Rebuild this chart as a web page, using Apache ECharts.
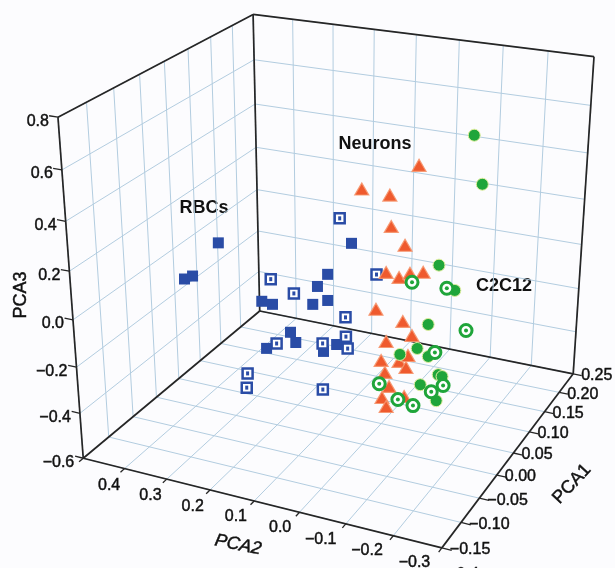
<!DOCTYPE html>
<html><head><meta charset="utf-8">
<script src="https://cdn.jsdelivr.net/npm/echarts@6.0.0/dist/echarts.min.js"></script>
<style>html,body{margin:0;padding:0;background:#fff}#c{width:615px;height:568px}</style>
</head><body><div id="c"></div>
<script>
// ---- axis ticks ----
const pca1Ticks = [-0.15, -0.10, -0.05, 0.00, 0.05, 0.10, 0.15, 0.20, 0.25];
const pca2Ticks = [-0.4, -0.3, -0.2, -0.1, 0.0, 0.1, 0.2, 0.3, 0.4];
const pca3Ticks = [-0.6, -0.4, -0.2, 0.0, 0.2, 0.4, 0.6, 0.8];
const pca1Labels = ['\u22120.15','\u22120.10','\u22120.05','0.00','0.05','0.10','0.15','0.20','0.25'];
const pca2Labels = ['\u22120.4','\u22120.3','\u22120.2','\u22120.1','0.0','0.1','0.2','0.3','0.4'];
const pca3Labels = ['\u22120.6','\u22120.4','\u22120.2','0.0','0.2','0.4','0.6','0.8'];

// ---- data: [PCA1, PCA2, PCA3] ----
const rbcFilled = [
 [0.00,0.230,0.156],[0.00,0.315,-0.029],[0.00,0.295,-0.009],[0.00,0.131,-0.060],[0.00,0.106,-0.064],
 [0.00,-0.074,0.255],[0.00,-0.021,0.109],[0.00,0.002,0.050],[0.00,0.013,-0.030],[0.00,-0.021,-0.001],
 [0.00,0.065,-0.170],[0.00,0.053,-0.210],[0.00,0.122,-0.263],[0.00,-0.041,-0.182],[0.00,-0.011,-0.224]
];
const rbcOpen = [
 [0.00,-0.048,0.348],[0.00,0.109,0.043],[0.00,0.056,0.001],[0.00,-0.061,-0.058],[0.00,0.098,-0.232],
 [0.00,-0.062,-0.140],[0.00,-0.066,-0.190],[0.00,-0.009,-0.190],[0.00,0.169,-0.394],[0.00,0.172,-0.460],
 [0.00,-0.009,-0.393],[0.00,-0.129,0.146]
];
const neurons = [
 [0.05,-0.175,0.533],[0.05,-0.051,0.401],[0.05,-0.113,0.395],[0.05,-0.117,0.268],[0.05,-0.148,0.200],
 [0.05,-0.107,0.072],[0.05,-0.136,0.061],[0.05,-0.160,0.087],[0.05,-0.189,0.101],[0.05,-0.085,-0.094],
 [0.05,-0.146,-0.124],[0.05,-0.167,-0.177],[0.05,-0.109,-0.226],[0.05,-0.098,-0.314],[0.05,-0.139,-0.302],
 [0.05,-0.155,-0.323],[0.05,-0.107,-0.364],[0.05,-0.117,-0.423],[0.05,-0.101,-0.480],[0.05,-0.111,-0.517],
 [0.05,-0.159,-0.268],[0.05,-0.152,-0.454]
];
const c2c12Filled = [
 [0.10,-0.252,0.613],[0.10,-0.273,0.422],[0.10,-0.184,0.055],[0.10,-0.221,-0.041],[0.10,-0.163,-0.212],
 [0.10,-0.139,-0.329],[0.10,-0.099,-0.372],[0.10,-0.165,-0.355],[0.10,-0.189,-0.428],[0.10,-0.198,-0.433],
 [0.10,-0.148,-0.491],[0.10,-0.186,-0.549]
];
const c2c12Open = [
 [0.10,-0.124,-0.040],[0.10,-0.203,-0.038],[0.10,-0.249,-0.206],[0.10,-0.180,-0.331],[0.10,-0.051,-0.527],
 [0.10,-0.201,-0.473],[0.10,-0.174,-0.513],[0.10,-0.096,-0.582],[0.10,-0.132,-0.595]
];

// ---- 3D view: camera fitted to the box corners of the reference view ----
const R1=[pca1Ticks[0],pca1Ticks[pca1Ticks.length-1]];
const R2=[pca2Ticks[0],pca2Ticks[pca2Ticks.length-1]];
const R3=[pca3Ticks[0],pca3Ticks[pca3Ticks.length-1]];
const viewCalib = [
 [R1[0],R2[1],R3[0], 83,458],[R1[0],R2[1],R3[1], 58,118],
 [R1[1],R2[1],R3[0],260,311],[R1[1],R2[1],R3[1],253,14],
 [R1[1],R2[0],R3[0],573,374],[R1[1],R2[0],R3[1],594,57],
 [R1[0],R2[0],R3[0],442,548],[R1[0],R2[0],R3[1],453,179]
];
function norm(p1,p2,p3){return [(p1-R1[0])/(R1[1]-R1[0]),(p2-R2[0])/(R2[1]-R2[0]),(p3-R3[0])/(R3[1]-R3[0])];}
function fitCamera(pts){
  const rows=[],rhs=[];
  pts.forEach(([p1,p2,p3,u,v])=>{
    const [X,Y,Z]=norm(p1,p2,p3);
    rows.push([X,Y,Z,1,0,0,0,0,-u*X,-u*Y,-u*Z]); rhs.push(u);
    rows.push([0,0,0,0,X,Y,Z,1,-v*X,-v*Y,-v*Z]); rhs.push(v);
  });
  const n=11,M=[];
  for(let i=0;i<n;i++){const row=new Array(n+1).fill(0);
    for(let j=0;j<n;j++) for(let k=0;k<rows.length;k++) row[j]+=rows[k][i]*rows[k][j];
    for(let k=0;k<rows.length;k++) row[n]+=rows[k][i]*rhs[k];
    M.push(row);}
  for(let c=0;c<n;c++){let piv=c;
    for(let r=c+1;r<n;r++) if(Math.abs(M[r][c])>Math.abs(M[piv][c])) piv=r;
    const t=M[c];M[c]=M[piv];M[piv]=t;
    for(let r=0;r<n;r++){ if(r===c) continue; const f=M[r][c]/M[c][c]; for(let k=c;k<=n;k++) M[r][k]-=f*M[c][k];}}
  return M.map((row,i)=>row[n]/row[i]);
}
const P=fitCamera(viewCalib);
function project(p1,p2,p3){const [X,Y,Z]=norm(p1,p2,p3);const w=P[8]*X+P[9]*Y+P[10]*Z+1;
  return [(P[0]*X+P[1]*Y+P[2]*Z+P[3])/w,(P[4]*X+P[5]*Y+P[6]*Z+P[7])/w];}

// ---- box, grid, ticks ----
const gridL=[],edgeL=[],tickL=[];
function seg(arr,a,b){arr.push({coords:[project(...a),project(...b)]});}
pca1Ticks.forEach(p=>{seg(gridL,[p,R2[0],R3[0]],[p,R2[1],R3[0]]);seg(gridL,[p,R2[1],R3[0]],[p,R2[1],R3[1]]);});
pca2Ticks.forEach(p=>{seg(gridL,[R1[0],p,R3[0]],[R1[1],p,R3[0]]);seg(gridL,[R1[1],p,R3[0]],[R1[1],p,R3[1]]);});
pca3Ticks.forEach(p=>{seg(gridL,[R1[0],R2[1],p],[R1[1],R2[1],p]);seg(gridL,[R1[1],R2[0],p],[R1[1],R2[1],p]);});
[[[R1[0],R2[0],R3[0]],[R1[0],R2[1],R3[0]]],[[R1[0],R2[0],R3[0]],[R1[1],R2[0],R3[0]]],
 [[R1[1],R2[0],R3[0]],[R1[1],R2[1],R3[0]]],[[R1[0],R2[1],R3[0]],[R1[1],R2[1],R3[0]]],
 [[R1[0],R2[1],R3[0]],[R1[0],R2[1],R3[1]]],[[R1[1],R2[1],R3[0]],[R1[1],R2[1],R3[1]]],
 [[R1[1],R2[0],R3[0]],[R1[1],R2[0],R3[1]]],[[R1[0],R2[1],R3[1]],[R1[1],R2[1],R3[1]]],
 [[R1[1],R2[0],R3[1]],[R1[1],R2[1],R3[1]]]].forEach(e=>seg(edgeL,e[0],e[1]));
const labels=[];
pca3Ticks.forEach((p,i)=>{seg(tickL,[R1[0],R2[1],p],[R1[0],R2[1]+0.02,p]);
  const q=project(R1[0],R2[1],p);labels.push({x:q[0]-9,y:q[1]+4,text:pca3Labels[i],align:'right'});});
pca1Ticks.forEach((p,i)=>{seg(tickL,[p,R2[0],R3[0]],[p,R2[0]-0.02,R3[0]]);
  const q=project(p,R2[0],R3[0]);labels.push({x:q[0]+8,y:q[1]+2,text:pca1Labels[i],align:'left'});});
pca2Ticks.forEach((p,i)=>{seg(tickL,[R1[0],p,R3[0]],[R1[0]-0.008,p,R3[0]]);
  const q=project(R1[0],p,R3[0]);labels.push({x:q[0]+37,y:q[1]+27,text:pca2Labels[i],align:'right'});});

const F='"Liberation Sans", Arial, sans-serif';
const proj=arr=>arr.map(d=>project(d[0],d[1],d[2]));
const BLUE='#2a4ca6',GREEN='#1fa53a',ORANGE='#ef5a2e';
const TXT={fill:'#111',stroke:'#111',lineWidth:0.45};
const chart=echarts.init(document.getElementById('c'));
chart.setOption({
  animation:false,backgroundColor:'#fcfcfe',
  grid:{left:0,right:0,top:0,bottom:0},
  xAxis:{type:'value',min:0,max:615,show:false},
  yAxis:{type:'value',min:0,max:568,inverse:true,show:false},
  series:[
    {type:'lines',coordinateSystem:'cartesian2d',silent:true,data:gridL,lineStyle:{color:'#b3cde0',width:1,opacity:1}},
    {type:'lines',coordinateSystem:'cartesian2d',silent:true,data:edgeL,lineStyle:{color:'#262626',width:1.7,opacity:1}},
    {type:'lines',coordinateSystem:'cartesian2d',silent:true,data:tickL,lineStyle:{color:'#262626',width:1.3,opacity:1}},
    {type:'custom',coordinateSystem:'cartesian2d',silent:true,data:labels.map(d=>[d.x,d.y]),
     renderItem:(params,api)=>{const d=labels[params.dataIndex];const pt=api.coord([api.value(0),api.value(1)]);
       return {type:'text',x:pt[0],y:pt[1],style:Object.assign({text:d.text,align:d.align,verticalAlign:'middle',font:'16px '+F},TXT)};}},
    {type:'scatter',name:'RBCs',data:proj(rbcFilled),symbol:'rect',symbolSize:11,itemStyle:{color:BLUE,opacity:1}},
    {type:'scatter',name:'RBCs open',data:proj(rbcOpen),symbol:'rect',symbolSize:10,itemStyle:{color:'#fff',borderColor:BLUE,borderWidth:2.5,opacity:1}},
    {type:'scatter',name:'RBCs open dot',data:proj(rbcOpen),symbol:'rect',symbolSize:[3,4],itemStyle:{color:BLUE,opacity:1}},
    {type:'scatter',name:'Neurons',data:proj(neurons),symbol:'triangle',symbolSize:[14,12],itemStyle:{color:ORANGE,borderColor:'rgba(246,150,110,0.9)',borderWidth:1.2,opacity:1}},
    {type:'scatter',name:'C2C12',data:proj(c2c12Filled),symbol:'circle',symbolSize:12,itemStyle:{color:GREEN,borderColor:'#e0eea0',borderWidth:1,opacity:1}},
    {type:'scatter',name:'C2C12 open',data:proj(c2c12Open),symbol:'circle',symbolSize:12,itemStyle:{color:'#fff',borderColor:GREEN,borderWidth:3,opacity:1}},
    {type:'scatter',name:'C2C12 open dot',data:proj(c2c12Open),symbol:'circle',symbolSize:4,itemStyle:{color:GREEN,opacity:1}}
  ],
  graphic:[
    {type:'text',x:21,y:295,rotation:Math.PI/2,style:Object.assign({text:'PCA3',font:'18px '+F,align:'center',verticalAlign:'middle'},TXT)},
    {type:'text',x:238,y:545,rotation:-0.2,style:Object.assign({text:'PCA2',font:'italic 18px '+F,align:'center',verticalAlign:'middle'},TXT)},
    {type:'text',x:572,y:484,rotation:0.82,style:Object.assign({text:'PCA1',font:'18px '+F,align:'center',verticalAlign:'middle'},TXT)},
    {type:'text',x:204,y:208,style:{text:'RBCs',font:'bold 18px '+F,align:'center',verticalAlign:'middle',fill:'#111'}},
    {type:'text',x:375,y:144,style:{text:'Neurons',font:'bold 18px '+F,align:'center',verticalAlign:'middle',fill:'#111'}},
    {type:'text',x:504,y:286,style:{text:'C2C12',font:'bold 18px '+F,align:'center',verticalAlign:'middle',fill:'#111'}}
  ]
});
</script></body></html>
